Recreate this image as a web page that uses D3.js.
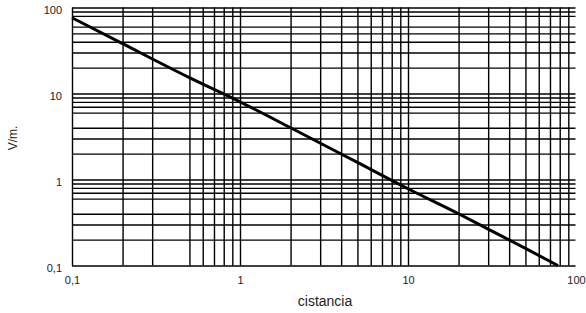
<!DOCTYPE html>
<html>
<head>
<meta charset="utf-8">
<script src="https://cdn.jsdelivr.net/npm/d3@7"></script>
<style>
  body { margin: 0; background: #fff; }
  svg { display: block; font-family: "Liberation Sans", Arial, sans-serif; }
</style>
</head>
<body>
<svg></svg>
<script>
// ---- DATA ----
const distancia = [0.1, 0.2, 0.5, 1, 2, 5, 10, 20, 30, 50, 78];
const campo = [76, 38, 15.3, 8.0, 4.0, 1.58, 0.78, 0.40, 0.265, 0.158, 0.1];

const xTicks = [0.1, 1, 10, 100];
const yTicks = [0.1, 1, 10, 100];
const tickText = ["0,1", "1", "10", "100"];

// grid lines as drawn (some minor lines are missing in the original)
const xGrid = [0.1, 0.2, 0.3, 0.5, 0.6, 0.7, 0.8, 0.9,
  1, 2, 3, 4, 5, 6, 7, 8, 9,
  10, 20, 30, 40, 50, 60, 70, 80, 90];
const yGrid = [0.1, 0.2, 0.3, 0.4, 0.6, 0.7, 0.8, 0.9,
  1, 2, 3, 4, 6, 7, 8, 9,
  10, 20, 30, 40, 50, 60, 80, 90, 100];

const svg = d3.select("svg").attr("width", 586).attr("height", 313);

const margin = { top: 7.5, right: 10, bottom: 47.5, left: 72 };
const width = 586 - margin.left - margin.right;
const height = 313 - margin.top - margin.bottom;

const g = svg.append("g")
  .attr("transform", `translate(${margin.left},${margin.top})`);

// ---- SCALES ----
const x = d3.scaleLog().domain([0.1, 100]).range([0, 504]);
const y = d3.scaleLog().domain([0.1, 100]).range([height, 0]);

// ---- GRID ----
const gridX = g.append("g")
  .attr("transform", `translate(0,${height})`)
  .call(d3.axisBottom(x).tickValues(xGrid).tickSize(-height).tickFormat(""));

const gridY = g.append("g")
  .call(d3.axisLeft(y).tickValues(yGrid).tickSize(-(width - 0.5)).tickFormat(""));

[gridX, gridY].forEach(a => {
  a.select(".domain").remove();
  a.selectAll("line").attr("stroke", "#000").attr("stroke-width", 1.4);
});

// ---- LABELS ----
const xAxisG = g.append("g")
  .attr("transform", `translate(0,${height})`)
  .call(d3.axisBottom(x).tickValues(xTicks).tickSize(0).tickPadding(11)
    .tickFormat(d => tickText[xTicks.indexOf(d)]));

const yAxisG = g.append("g")
  .call(d3.axisLeft(y).tickValues(yTicks).tickSize(0).tickPadding(10)
    .tickFormat(d => tickText[yTicks.indexOf(d)]));

[xAxisG, yAxisG].forEach(a => {
  a.select(".domain").remove();
  a.selectAll("text")
    .attr("font-size", 11)
    .attr("font-family", "'Liberation Sans', Arial, sans-serif")
    .attr("fill", "#222");
});
yAxisG.selectAll("text").attr("dy", "0.5em");

// ---- CURVE ----
const line = d3.line()
  .x((d, i) => x(distancia[i]))
  .y(d => y(d))
  .curve(d3.curveMonotoneX);

g.append("path")
  .datum(campo)
  .attr("fill", "none")
  .attr("stroke", "#000")
  .attr("stroke-width", 3)
  .attr("d", line);

// ---- AXIS TITLES ----
svg.append("text")
  .attr("x", 325)
  .attr("y", 306)
  .attr("text-anchor", "middle")
  .attr("font-size", 14)
  .attr("fill", "#222")
  .text("cistancia");

svg.append("text")
  .attr("transform", "translate(17,138) rotate(-90)")
  .attr("text-anchor", "middle")
  .attr("font-size", 12)
  .attr("fill", "#222")
  .text("V/m.");
</script>
</body>
</html>
